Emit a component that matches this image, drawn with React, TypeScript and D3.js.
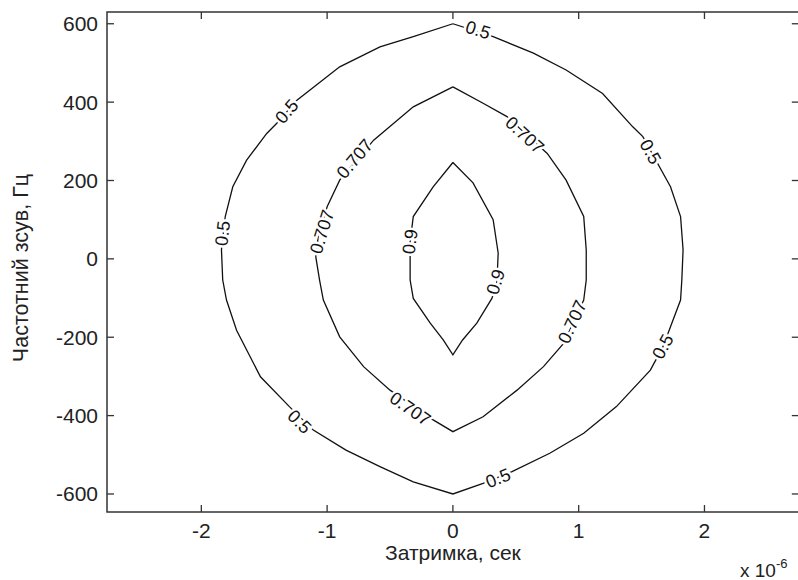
import React from 'react';
import * as d3 from 'd3';

// Axis ticks (delay in units of 1e-6 s, Doppler shift in Hz)
const xTicks: number[] = [-2, -1, 0, 1, 2];
const yTicks: number[] = [-600, -400, -200, 0, 200, 400, 600];
const xDomain: [number, number] = [-2.75, 2.75];
const yDomain: [number, number] = [-646, 630];

// Contour lines, digitised: [delay (x1e-6 s), frequency shift (Hz)]
const contour05: [number, number][] = [
  [0, 600], [-0.315, 567], [-0.58, 541], [-0.9, 490], [-1.24, 405], [-1.4, 346], [-1.48, 320],
  [-1.64, 252], [-1.75, 184], [-1.81, 108], [-1.84, 23], [-1.83, -54], [-1.8, -105], [-1.72, -182],
  [-1.53, -301], [-1.3, -377], [-1.11, -437], [-0.85, -488], [-0.58, -530], [-0.315, -569], [0, -600],
  [0.24, -573], [0.47, -543], [0.77, -496], [1.04, -445], [1.3, -377], [1.57, -284], [1.67, -224],
  [1.73, -173], [1.81, -105], [1.82, -54], [1.83, 23], [1.81, 108], [1.73, 184], [1.51, 312],
  [1.43, 337], [1.19, 422], [0.9, 482], [0.64, 525], [0.32, 567], [0, 600],
];
const contour0707: [number, number][] = [
  [0, 439], [-0.315, 388], [-0.63, 303], [-0.9, 201], [-1.0, 133], [-1.07, 60], [-1.09, 5],
  [-1.06, -54], [-1.03, -105], [-0.9, -199], [-0.71, -275], [-0.5, -335], [-0.157, -411], [0, -441],
  [0.24, -403], [0.51, -335], [0.72, -275], [0.88, -216], [1.04, -105], [1.06, -54], [1.06, 23],
  [1.04, 108], [0.9, 201], [0.75, 269], [0.43, 363], [0.24, 397], [0, 439],
];
const contour09: [number, number][] = [
  [0, 246], [-0.157, 184], [-0.315, 108], [-0.34, 44], [-0.34, 5], [-0.34, -54], [-0.315, -101],
  [-0.18, -164], [-0.077, -207], [0, -245], [0.077, -207], [0.19, -164], [0.31, -101], [0.35, -59],
  [0.36, 15], [0.32, 100], [0.16, 194], [0, 246],
];

// Label anchor positions on each contour
const labels05: [number, number][] = [
  [0.2, 584], [-1.32, 376], [-1.83, 65], [-1.22, -416], [0.36, -560], [1.67, -224], [1.57, 273],
];
const labels0707: [number, number][] = [
  [-0.78, 255], [-1.04, 69], [-0.34, -383], [0.95, -161], [0.57, 316],
];
const labels09: [number, number][] = [[-0.34, 44], [0.34, -59]];

const levels = [
  { text: '0.5', line: contour05, labels: labels05 },
  { text: '0.707', line: contour0707, labels: labels0707 },
  { text: '0.9', line: contour09, labels: labels09 },
];

const W = 798;
const H = 580;
const FONT = '"Liberation Sans", Arial, Helvetica, sans-serif';

export default function App() {
  const x = d3.scaleLinear().domain(xDomain).range([107, 798.8]);
  const y = d3.scaleLinear().domain(yDomain).range([512, 12]);
  const line = d3
    .line<[number, number]>()
    .x((d) => x(d[0]))
    .y((d) => y(d[1]));

  const [x0, x1] = x.range();
  const [y0, y1] = y.range();
  const tick = 7;

  const angleAt = (pts: [number, number][], p: [number, number]) => {
    const px = x(p[0]);
    const py = y(p[1]);
    let best = Infinity;
    let ang = 0;
    for (let i = 0; i < pts.length - 1; i++) {
      const ax = x(pts[i][0]);
      const ay = y(pts[i][1]);
      const bx = x(pts[i + 1][0]);
      const by = y(pts[i + 1][1]);
      const dx = bx - ax;
      const dy = by - ay;
      const len2 = dx * dx + dy * dy || 1;
      let t = ((px - ax) * dx + (py - ay) * dy) / len2;
      t = Math.max(0, Math.min(1, t));
      const cx = ax + t * dx;
      const cy = ay + t * dy;
      const dist = (cx - px) ** 2 + (cy - py) ** 2;
      if (dist < best) {
        best = dist;
        ang = (Math.atan2(dy, dx) * 180) / Math.PI;
      }
    }
    if (ang > 90) ang -= 180;
    if (ang < -90) ang += 180;
    return ang;
  };

  return (
    <svg
      width={W}
      height={H}
      style={{ position: 'absolute', left: 0, top: 0, background: '#fff' }}
      fontFamily={FONT}
    >
      <rect x={0} y={0} width={W} height={H} fill="#fff" />
      {levels.map((lv) => (
        <path key={lv.text} d={line(lv.line) || ''} fill="none" stroke="#111" strokeWidth={1.3} />
      ))}
      {levels.map((lv) =>
        lv.labels.map((p, i) => {
          const a = angleAt(lv.line, p);
          return (
            <text
              key={lv.text + i}
              transform={`translate(${x(p[0])},${y(p[1])}) rotate(${a})`}
              textAnchor="middle"
              dominantBaseline="central"
              fontSize={18}
              fill="#111"
              stroke="#fff"
              strokeWidth={5}
              paintOrder="stroke"
              style={{ paintOrder: 'stroke' }}
            >
              {lv.text}
            </text>
          );
        })
      )}
      {/* axes box */}
      <rect x={x0} y={y1} width={x1 - x0} height={y0 - y1} fill="none" stroke="#333" strokeWidth={1.5} />
      {xTicks.map((t) => (
        <g key={'x' + t}>
          <line x1={x(t)} x2={x(t)} y1={y0} y2={y0 - tick} stroke="#333" strokeWidth={1.3} />
          <line x1={x(t)} x2={x(t)} y1={y1} y2={y1 + tick} stroke="#333" strokeWidth={1.3} />
          <text x={x(t)} y={538} textAnchor="middle" fontSize={21} fill="#222">
            {t}
          </text>
        </g>
      ))}
      {yTicks.map((t) => (
        <g key={'y' + t}>
          <line x1={x0} x2={x0 + tick} y1={y(t)} y2={y(t)} stroke="#333" strokeWidth={1.3} />
          <line x1={x1} x2={x1 - tick} y1={y(t)} y2={y(t)} stroke="#333" strokeWidth={1.3} />
          <text x={x0 - 9} y={y(t)} textAnchor="end" dominantBaseline="central" fontSize={21} fill="#222">
            {t}
          </text>
        </g>
      ))}
      <text x={x(0)} y={560} textAnchor="middle" fontSize={21} fill="#222">
        Затримка, сек
      </text>
      <text
        transform={`translate(28,${(y0 + y1) / 2 + 6}) rotate(-90)`}
        textAnchor="middle"
        fontSize={21.5}
        fill="#222"
      >
        Частотний зсув, Гц
      </text>
      <text x={740} y={577} fontSize={19} fill="#222">
        x 10
        <tspan dy={-9} fontSize={13}>
          -6
        </tspan>
      </text>
    </svg>
  );
}
